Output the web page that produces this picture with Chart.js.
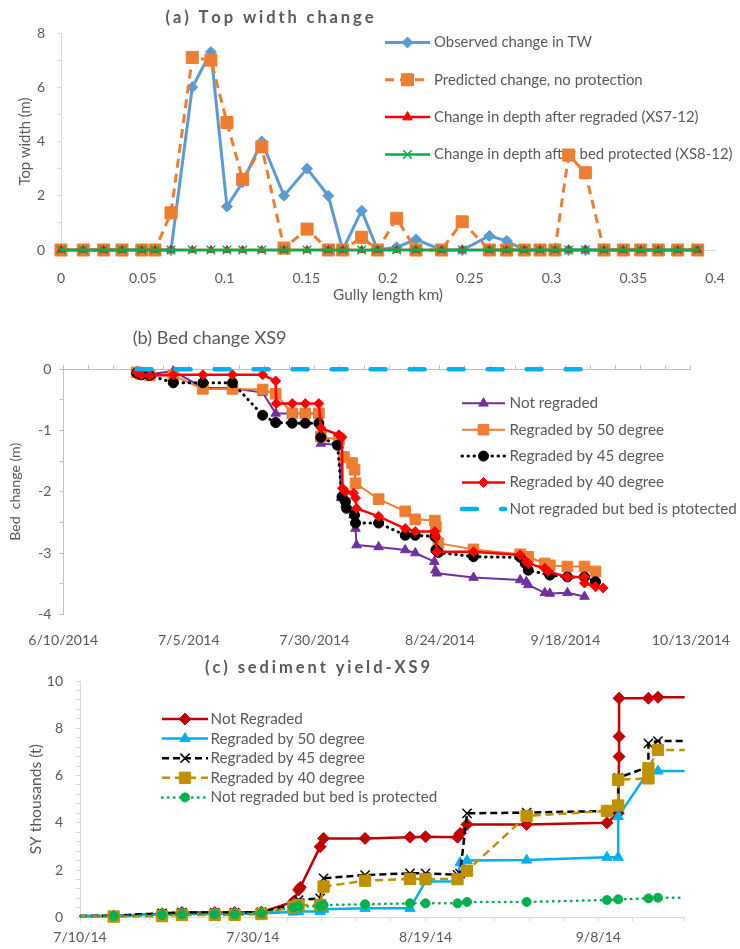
<!DOCTYPE html>
<html><head><meta charset="utf-8">
<script src="https://cdn.jsdelivr.net/npm/chart.js@4.4.1/dist/chart.umd.min.js"></script>
<style>
html,body{margin:0;padding:0;background:#fff;width:740px;height:949px;overflow:hidden}
canvas{position:absolute;left:0;display:block}
</style></head><body>
<canvas id="ca" width="740" height="305" style="top:0px;width:740px;height:305px"></canvas>
<canvas id="cb" width="740" height="340" style="top:305px;width:740px;height:340px"></canvas>
<canvas id="cc" width="740" height="304" style="top:645px;width:740px;height:304px"></canvas>
<script>
// ================= (a) Top width change =================
const gullyLengthKm = [0, 0.0136, 0.0261, 0.0373, 0.0494, 0.0575, 0.0673, 0.0803, 0.0917, 0.1015,
  0.1111, 0.1228, 0.1364, 0.1505, 0.1635, 0.1723, 0.1839, 0.1937, 0.2053, 0.2171,
  0.2328, 0.2454, 0.2620, 0.2726, 0.2834, 0.2930, 0.3021, 0.3105, 0.3207, 0.3321,
  0.3439, 0.3546, 0.3653, 0.3772, 0.3894];
const observedTW = [0, 0, 0, 0, 0, 0, 0, 6.0, 7.3, 1.6,
  2.5, 4.0, 2.0, 3.0, 2.0, 0, 1.45, 0, 0.1, 0.39,
  0, 0, 0.52, 0.34, 0, 0, 0, 0, 0, 0,
  0, 0, 0, 0, 0];
const predictedTW = [0, 0, 0, 0, 0, 0, 1.37, 7.1, 7.0, 4.7,
  2.6, 3.8, 0.07, 0.77, 0, 0, 0.47, 0, 1.17, 0,
  0, 1.04, 0, 0, 0, 0, 0, 3.5, 2.85, 0,
  0, 0, 0, 0, 0];
const regradedDepth = [0, 0, 0, 0, 0, 0, 0, 0, 0, 0,
  0, 0, 0, 0, 0, 0, 0, 0, 0, 0,
  0, 0, 0, 0, 0, 0, 0, 0, 0, 0,
  0, 0, 0, 0, 0];
const protectedDepth = [0, 0, 0, 0, 0, 0, 0, 0, 0, 0,
  0, 0, 0, 0, 0, 0, 0, 0, 0, 0,
  0, 0, 0, 0, 0, 0, 0, 0, 0, 0,
  0, 0, 0, 0, 0];
const seriesNamesA = ['Observed change in TW', 'Predicted change, no protection',
  'Change in depth after regraded (XS7-12)', 'Change in depth after bed protected (XS8-12)'];

// ================= (b) Bed change XS9 (days after 6/10/2014) =================
const bedStart = [2014, 5, 10];
const notRegradedDays = [14.6, 15.5, 17.2, 21.9, 27.8, 33.7, 39.7, 42.3, 45.6, 48.2, 50.9, 51.3, 54.9,
  55.3, 56.2, 57.8, 58.2, 58.4, 62.8, 68.1, 70.1, 73.9, 74.1, 74.4, 81.7, 91.0, 92.2, 92.6, 95.9, 96.9, 100.4, 103.8];
const notRegradedBed = [-0.04, -0.07, -0.08, -0.03, -0.30, -0.31, -0.38, -0.72, -0.72, -0.72, -0.72, -1.21, -1.24,
  -2.10, -2.20, -2.38, -2.60, -2.87, -2.90, -2.95, -3.00, -3.14, -3.28, -3.33, -3.40, -3.44, -3.47, -3.52, -3.65, -3.66, -3.65, -3.71];
const reg50Days = [14.6, 15.5, 17.2, 21.9, 27.8, 33.7, 39.7, 42.3, 45.6, 48.2, 50.9, 51.3, 54.9, 55.9, 57.5, 58.0,
  58.2, 62.8, 68.1, 70.1, 74.0, 74.2, 74.7, 81.7, 91.0, 92.6, 95.9, 96.9, 100.4, 103.8, 106.0];
const reg50Bed = [-0.05, -0.08, -0.10, -0.10, -0.32, -0.32, -0.33, -0.40, -0.72, -0.72, -0.72, -1.10, -1.15, -1.43, -1.53, -1.64,
  -1.86, -2.12, -2.32, -2.45, -2.47, -2.57, -2.84, -2.94, -3.02, -3.06, -3.17, -3.20, -3.22, -3.22, -3.30];
const reg45Days = [14.6, 15.5, 17.2, 21.9, 27.8, 33.7, 39.7, 42.3, 45.6, 48.2, 50.9, 51.3, 54.6, 55.5, 56.2, 56.4,
  58.0, 58.2, 62.8, 68.1, 70.1, 74.0, 74.2, 74.7, 81.7, 91.0, 92.0, 92.6, 96.9, 100.4, 103.8, 106.0];
const reg45Bed = [-0.06, -0.09, -0.10, -0.22, -0.22, -0.22, -0.75, -0.87, -0.88, -0.88, -0.88, -1.11, -1.24, -2.08, -2.16, -2.27,
  -2.38, -2.51, -2.51, -2.71, -2.71, -2.73, -2.95, -2.99, -3.06, -3.07, -3.17, -3.28, -3.36, -3.39, -3.39, -3.47];
const reg40Days = [14.6, 15.5, 17.2, 21.9, 27.8, 33.7, 39.7, 42.3, 42.4, 45.6, 48.2, 50.9, 51.3, 54.9, 55.5, 55.6,
  56.2, 57.8, 58.2, 58.4, 62.8, 68.1, 70.1, 74.0, 74.2, 74.4, 81.7, 91.0, 92.2, 92.6, 95.9, 96.5, 100.4, 103.7, 103.8, 106.0, 107.5];
const reg40Bed = [-0.05, -0.09, -0.10, -0.09, -0.09, -0.09, -0.09, -0.19, -0.56, -0.56, -0.56, -0.56, -0.96, -1.07, -1.11, -1.94,
  -2.00, -2.02, -2.10, -2.27, -2.40, -2.60, -2.65, -2.65, -2.73, -2.98, -2.98, -3.03, -3.14, -3.17, -3.25, -3.30, -3.39, -3.39, -3.49, -3.55, -3.57];
const protectedDaysB = [14.6, 21.9, 27.8, 33.7, 39.7, 50.9, 62.8, 74.0, 81.7, 91.0, 103.8];
const protectedBedB = [0, 0, 0, 0, 0, 0, 0, 0, 0, 0, 0];
const seriesNamesB = ['Not regraded', 'Regraded by 50 degree', 'Regraded by 45 degree',
  'Regraded by 40 degree', 'Not regraded but bed is ptotected'];

// ================= (c) sediment yield-XS9 (days after 7/10/2014, thousands t) =================
const syStart = [2014, 6, 10];
const syNotRegDays = [0, 3.9, 9.5, 11.8, 15.6, 17.9, 21.0, 24.7, 25.3, 25.5, 27.8, 28.2, 33.0, 38.2,
  40.0, 43.7, 44.0, 44.8, 51.7, 61.0, 62.3, 62.4, 62.4, 62.4, 65.8, 66.9, 70.0];
const syNotReg = [0.05, 0.06, 0.15, 0.20, 0.20, 0.20, 0.22, 0.66, 1.16, 1.27, 2.99, 3.34, 3.34, 3.39,
  3.41, 3.39, 3.55, 3.93, 3.93, 4.00, 4.40, 6.80, 7.65, 9.27, 9.27, 9.31, 9.31];
const sy50Days = [0, 3.9, 9.5, 11.8, 15.6, 17.9, 21.0, 24.7, 25.3, 27.8, 28.2, 33.0, 38.2, 40.0,
  43.7, 44.0, 44.8, 51.7, 61.0, 62.3, 62.3, 65.8, 66.9, 70.0];
const sy50 = [0.05, 0.06, 0.12, 0.15, 0.15, 0.15, 0.17, 0.22, 0.25, 0.25, 0.34, 0.38, 0.38, 1.51,
  1.51, 2.31, 2.40, 2.42, 2.54, 2.54, 4.26, 6.16, 6.19, 6.19];
const sy45Days = [0, 3.9, 9.5, 11.8, 15.6, 17.9, 21.0, 24.7, 25.3, 27.8, 28.2, 33.0, 38.2, 40.0,
  43.7, 44.0, 44.8, 51.7, 61.0, 62.3, 62.3, 65.8, 65.8, 66.9, 70.0];
const sy45 = [0.05, 0.07, 0.17, 0.20, 0.20, 0.20, 0.22, 0.55, 0.73, 0.80, 1.65, 1.79, 1.86, 1.86,
  1.80, 1.85, 4.40, 4.43, 4.50, 4.60, 5.90, 6.37, 7.36, 7.46, 7.46];
const sy40Days = [0, 3.9, 9.5, 11.8, 15.6, 17.9, 21.0, 24.7, 25.3, 27.8, 28.2, 33.0, 38.2, 40.0,
  43.7, 44.8, 51.7, 61.0, 62.3, 62.3, 65.8, 65.8, 66.9, 70.0];
const sy40 = [0.05, 0.03, 0.05, 0.10, 0.10, 0.10, 0.14, 0.45, 0.52, 0.52, 1.30, 1.55, 1.62, 1.62,
  1.62, 1.97, 4.29, 4.50, 4.73, 5.82, 5.88, 6.30, 7.08, 7.08];
const syProtDays = [0, 3.9, 9.5, 11.8, 15.6, 17.9, 21.0, 24.7, 25.3, 27.8, 28.2, 33.0, 38.2, 40.0,
  43.7, 44.8, 51.7, 61.0, 62.3, 65.8, 66.9, 70.0];
const syProt = [0.05, 0.05, 0.10, 0.13, 0.13, 0.13, 0.17, 0.42, 0.47, 0.47, 0.52, 0.55, 0.59, 0.59,
  0.59, 0.65, 0.65, 0.73, 0.76, 0.80, 0.83, 0.83];
const seriesNamesC = ['Not Regraded', 'Regraded by 50 degree', 'Regraded by 45 degree',
  'Regraded by 40 degree', 'Not regraded but bed is protected'];

// ================= helpers =================
const FAMILY = 'Lato, "Liberation Sans", sans-serif';
const GRAY = '#595959';
const AXIS = '#d9d9d9';
const mctx = document.createElement('canvas').getContext('2d');
function fitPx(text, width, weight) {
  mctx.font = (weight || 'normal') + ' 100px ' + FAMILY;
  return 100 * width / mctx.measureText(text).width;
}
function pts(xs, ys) { return xs.map((x, k) => ({x: x, y: ys[k]})); }
function fmtDate(start, v, longYear) {
  const d = new Date(start[0], start[1], start[2] + Math.round(v));
  const y = longYear ? String(d.getFullYear()) : String(d.getFullYear()).slice(2);
  return (d.getMonth() + 1) + '/' + d.getDate() + '/' + y;
}
Chart.defaults.font.family = FAMILY;
Chart.defaults.color = GRAY;

function drawMarker(ctx, style, r, x, y, bw) {
  if (Chart.helpers && Chart.helpers.drawPoint) {
    Chart.helpers.drawPoint(ctx, {pointStyle: style, rotation: 0, radius: r, borderWidth: bw}, x, y);
    return;
  }
  ctx.beginPath();
  if (style === 'circle') ctx.arc(x, y, r, 0, Math.PI * 2);
  else if (style === 'rect') { const s = r * Math.SQRT1_2; ctx.rect(x - s, y - s, 2 * s, 2 * s); }
  else if (style === 'rectRot') { ctx.moveTo(x, y - r); ctx.lineTo(x + r, y); ctx.lineTo(x, y + r); ctx.lineTo(x - r, y); ctx.closePath(); }
  else if (style === 'triangle') { ctx.moveTo(x, y - r); ctx.lineTo(x + r * 0.866, y + r / 2); ctx.lineTo(x - r * 0.866, y + r / 2); ctx.closePath(); }
  else if (style === 'crossRot') { const s = r * Math.SQRT1_2; ctx.moveTo(x - s, y - s); ctx.lineTo(x + s, y + s); ctx.moveTo(x + s, y - s); ctx.lineTo(x - s, y + s); }
  ctx.fill(); if (bw > 0) ctx.stroke();
}

const xlLegend = {
  id: 'xlLegend',
  beforeDatasetsDraw(chart, args, o) {
    if (o.x0 === undefined) return;
    const ctx = chart.ctx;
    chart.data.datasets.forEach((d, i) => {
      const y = o.y + i * o.dy;
      ctx.save();
      ctx.strokeStyle = d.borderColor; ctx.lineWidth = d.borderWidth;
      ctx.setLineDash(d.borderDash || []); ctx.lineCap = d.borderCapStyle || 'butt';
      ctx.beginPath(); ctx.moveTo(o.x0, y); ctx.lineTo(o.x1, y); ctx.stroke();
      ctx.restore();
      const r = d.legendRadius;
      if (r > 0) {
        ctx.save();
        ctx.setLineDash([]);
        ctx.fillStyle = d.pointBackgroundColor; ctx.strokeStyle = d.pointBorderColor; ctx.lineWidth = d.pointBorderWidth;
        drawMarker(ctx, d.pointStyle, r, (o.x0 + o.x1) / 2, y, d.pointBorderWidth);
        ctx.restore();
      }
      ctx.save();
      ctx.fillStyle = GRAY; ctx.font = o.font; ctx.textBaseline = 'middle'; ctx.textAlign = 'left';
      ctx.fillText(d.label, o.tx, y);
      ctx.restore();
    });
  }
};
const xlTitle = {
  id: 'xlTitle',
  afterDraw(chart, args, o) {
    if (!o.text) return;
    const ctx = chart.ctx; ctx.save();
    ctx.fillStyle = GRAY; ctx.font = o.font; ctx.textBaseline = 'middle';
    if (o.width) {
      const chars = Array.from(o.text);
      let nat = 0; chars.forEach(c => nat += ctx.measureText(c).width);
      const sp = (o.width - nat) / (chars.length - 1);
      let x = o.cx - o.width / 2; ctx.textAlign = 'left';
      chars.forEach(c => { ctx.fillText(c, x, o.cy); x += ctx.measureText(c).width + sp; });
    } else { ctx.textAlign = 'center'; ctx.fillText(o.text, o.cx, o.cy); }
    ctx.restore();
  }
};
function lineDs(label, data, i, n, st) {
  return Object.assign({label: label, data: data, order: n - 1 - i, clip: false, tension: 0, fill: false,
    borderCapStyle: 'butt', pointBorderWidth: 1}, st);
}
const common = {responsive: false, animation: false, devicePixelRatio: 1, events: [],
  plugins: {legend: {display: false}, tooltip: {enabled: false}}};

// ================= Chart (a) =================
const fA = {
  leg: fitPx('Observed change in TW', 158), tick: fitPx('0.35', 27.7),
  yt: fitPx('Top width (m)', 88), xt: fitPx('Gully length km)', 110)
};
const stA = [
  {borderColor: '#5B9BD5', borderWidth: 3, pointStyle: 'rectRot', pointRadius: 5.5, legendRadius: 5.5,
   pointBackgroundColor: '#5B9BD5', pointBorderColor: '#5B9BD5'},
  {borderColor: '#ED7D31', borderWidth: 3, borderDash: [9, 6], pointStyle: 'rect', pointRadius: 8.5, legendRadius: 8.5,
   pointBackgroundColor: '#ED7D31', pointBorderColor: '#ED7D31'},
  {borderColor: '#FF0000', borderWidth: 2.5, pointStyle: 'triangle', pointRadius: 4.5, legendRadius: 5.5,
   pointBackgroundColor: '#FF0000', pointBorderColor: '#FF0000'},
  {borderColor: '#00B050', borderWidth: 2.5, pointStyle: 'crossRot', pointRadius: 6, legendRadius: 6, pointBorderWidth: 1.5,
   pointBackgroundColor: '#00B050', pointBorderColor: '#00B050'}
];
const valsA = [observedTW, predictedTW, regradedDepth, protectedDepth];
new Chart(document.getElementById('ca'), {
  type: 'line',
  data: {datasets: valsA.map((v, i) => lineDs(seriesNamesA[i], pts(gullyLengthKm, v), i, 4, stA[i]))},
  options: Object.assign({}, common, {
    layout: {padding: {top: 33, right: 25, left: 0, bottom: 0}},
    plugins: Object.assign({}, common.plugins, {
      xlLegend: {x0: 385, x1: 430, tx: 434, y: 42.5, dy: 37.3, font: fA.leg.toFixed(2) + 'px ' + FAMILY},
      xlTitle: {text: '(a) Top width change', cx: 269.5, cy: 18, width: 208, font: 'bold 16.5px ' + FAMILY}
    }),
    scales: {
      x: {type: 'linear', min: 0, max: 0.4, afterFit: s => { s.height = 55; },
        grid: {display: false}, border: {display: true, color: AXIS, width: 1},
        ticks: {stepSize: 0.05, padding: 12, maxRotation: 0, autoSkip: false, color: GRAY, font: {size: fA.tick},
          callback: v => String(+(+v).toFixed(2))},
        title: {display: true, text: 'Gully length km)', color: GRAY, font: {size: fA.xt}, padding: {top: 0, bottom: 1}}},
      y: {min: 0, max: 8, afterFit: s => { s.width = 61; },
        grid: {display: true, drawOnChartArea: false, drawTicks: true, tickLength: 4, color: AXIS},
        border: {display: true, color: AXIS, width: 1},
        ticks: {stepSize: 1, padding: 12, color: GRAY, font: {size: fA.tick},
          callback: v => (Math.round(v) % 2 === 0 ? String(Math.round(v)) : '')},
        title: {display: true, text: 'Top width (m)', color: GRAY, font: {size: fA.yt}, padding: {top: 16, bottom: 0}}}
    }
  }),
  plugins: [xlLegend, xlTitle]
});

// ================= Chart (b) =================
const fB = {
  title: fitPx('(b) Bed change XS9', 154), leg: fitPx('Regraded by 50 degree', 154.7),
  tick: fitPx('6/10/2014', 70), yt: fitPx('Bed  change (m)', 98)
};
const stB = [
  {borderColor: '#7030A0', borderWidth: 2, pointStyle: 'triangle', pointRadius: 5.5, legendRadius: 5.5,
   pointBackgroundColor: '#7030A0', pointBorderColor: '#7030A0'},
  {borderColor: '#ED7D31', borderWidth: 2, pointStyle: 'rect', pointRadius: 7.5, legendRadius: 7.5,
   pointBackgroundColor: '#ED7D31', pointBorderColor: '#ED7D31'},
  {borderColor: '#000000', borderWidth: 3, borderDash: [0.5, 5.5], borderCapStyle: 'round', pointStyle: 'circle',
   pointRadius: 5, legendRadius: 5, pointBackgroundColor: '#000000', pointBorderColor: '#000000'},
  {borderColor: '#FF0000', borderWidth: 2.5, pointStyle: 'rectRot', pointRadius: 5, legendRadius: 5,
   pointBackgroundColor: '#FF0000', pointBorderColor: '#FF0000'},
  {borderColor: '#00B0F0', borderWidth: 4.5, borderDash: [15, 24], borderCapStyle: 'round', pointRadius: 0, legendRadius: 0,
   pointBackgroundColor: '#00B0F0', pointBorderColor: '#00B0F0'}
];
const dataB = [pts(notRegradedDays, notRegradedBed), pts(reg50Days, reg50Bed), pts(reg45Days, reg45Bed),
  pts(reg40Days, reg40Bed), pts(protectedDaysB, protectedBedB)];
new Chart(document.getElementById('cb'), {
  type: 'line',
  data: {datasets: dataB.map((d, i) => lineDs(seriesNamesB[i], d, i, 5, stB[i]))},
  options: Object.assign({}, common, {
    layout: {padding: {top: 64.3, right: 46.7, left: 0, bottom: 0}},
    plugins: Object.assign({}, common.plugins, {
      xlLegend: {x0: 462, x1: 505, tx: 509.5, y: 98.3, dy: 26.4, font: fB.leg.toFixed(2) + 'px ' + FAMILY},
      xlTitle: {text: '(b) Bed change XS9', cx: 209.7, cy: 33, font: fB.title.toFixed(2) + 'px ' + FAMILY}
    }),
    scales: {
      x: {type: 'linear', position: 'bottom', min: 0, max: 125, afterFit: s => { s.height = 30.7; },
        grid: {display: false}, border: {display: false},
        ticks: {stepSize: 25, padding: 10, maxRotation: 0, autoSkip: false, color: GRAY, font: {size: fB.tick},
          callback: v => fmtDate(bedStart, v, true)}},
      x2: {type: 'linear', position: 'top', min: 0, max: 125, afterFit: s => { s.height = 0; },
        grid: {display: true, drawOnChartArea: false, drawTicks: true, tickLength: 4, color: '#bfbfbf'},
        border: {display: true, color: '#bfbfbf', width: 1},
        ticks: {stepSize: 5, display: false, autoSkip: false}},
      y: {min: -4, max: 0, afterFit: s => { s.width = 63.3; },
        grid: {display: true, drawOnChartArea: false, drawTicks: true, tickLength: 4, color: '#bfbfbf'},
        border: {display: true, color: '#bfbfbf', width: 1},
        ticks: {stepSize: 0.5, padding: 8, color: GRAY, font: {size: fB.tick}, autoSkip: false,
          callback: v => (Math.abs(v - Math.round(v)) < 1e-6 ? String(Math.round(v)) : '')},
        title: {display: true, text: 'Bed  change (m)', color: GRAY, font: {size: fB.yt}, padding: {top: 7, bottom: 0}}}
    }
  }),
  plugins: [xlLegend, xlTitle]
});

// ================= Chart (c) =================
const fC = {
  leg: fitPx('Regraded by 50 degree', 154.3), tick: fitPx('7/10/14', 53.3), yt: fitPx('SY thousands (t)', 110)
};
const hideEnds = ctx => (ctx.dataIndex === 0 || ctx.dataIndex === ctx.dataset.data.length - 1) ? 0 : ctx.dataset.legendRadius;
const stC = [
  {borderColor: '#C00000', borderWidth: 2.5, pointStyle: 'rectRot', pointRadius: hideEnds, legendRadius: 6,
   pointBackgroundColor: '#C00000', pointBorderColor: '#C00000'},
  {borderColor: '#00B0F0', borderWidth: 2.5, pointStyle: 'triangle', pointRadius: hideEnds, legendRadius: 6,
   pointBackgroundColor: '#00B0F0', pointBorderColor: '#00B0F0'},
  {borderColor: '#000000', borderWidth: 2.5, borderDash: [7, 4], pointStyle: 'crossRot', pointRadius: hideEnds, legendRadius: 6.5,
   pointBorderWidth: 1.5, pointBackgroundColor: '#000000', pointBorderColor: '#000000'},
  {borderColor: '#BF9000', borderWidth: 2.5, borderDash: [8, 5], pointStyle: 'rect', pointRadius: hideEnds, legendRadius: 8,
   pointBackgroundColor: '#BF9000', pointBorderColor: '#BF9000'},
  {borderColor: '#00B050', borderWidth: 2.5, borderDash: [0.5, 5.5], borderCapStyle: 'round', pointStyle: 'circle',
   pointRadius: hideEnds, legendRadius: 4.5, pointBackgroundColor: '#00B050', pointBorderColor: '#00B050'}
];
const dataC = [pts(syNotRegDays, syNotReg), pts(sy50Days, sy50), pts(sy45Days, sy45), pts(sy40Days, sy40), pts(syProtDays, syProt)];
new Chart(document.getElementById('cc'), {
  type: 'line',
  data: {datasets: dataC.map((d, i) => lineDs(seriesNamesC[i], d, i, 5, stC[i]))},
  options: Object.assign({}, common, {
    layout: {padding: {top: 36, right: 55.3, left: 0, bottom: 0}},
    plugins: Object.assign({}, common.plugins, {
      xlLegend: {x0: 162, x1: 208, tx: 210.5, y: 74, dy: 19.6, font: fC.leg.toFixed(2) + 'px ' + FAMILY},
      xlTitle: {text: '(c) sediment yield-XS9', cx: 317.5, cy: 22.5, width: 225, font: 'bold 16.5px ' + FAMILY}
    }),
    scales: {
      x: {type: 'linear', min: 0, max: 70, afterFit: s => { s.height = 31.7; },
        grid: {display: true, drawOnChartArea: false, drawTicks: true, tickLength: 4, color: AXIS},
        border: {display: true, color: AXIS, width: 1},
        ticks: {stepSize: 4, padding: 8, maxRotation: 0, autoSkip: false, color: GRAY, font: {size: fC.tick},
          callback: v => (Math.round(v) % 20 === 0 ? fmtDate(syStart, v, false) : '')}},
      y: {min: 0, max: 10, afterFit: s => { s.width = 80; },
        grid: {display: true, drawOnChartArea: false, drawTicks: true, tickLength: 4, color: AXIS},
        border: {display: true, color: AXIS, width: 1},
        ticks: {stepSize: 0.4, padding: 13, autoSkip: false, color: GRAY, font: {size: fC.tick},
          callback: v => { const r = Math.round(v * 10) / 10; return (Math.abs(r % 2) < 1e-6) ? String(r) : ''; }},
        title: {display: true, text: 'SY thousands (t)', color: GRAY, font: {size: fC.yt}, padding: {top: 27, bottom: 0}}}
    }
  }),
  plugins: [xlLegend, xlTitle]
});
</script>
</body></html>
